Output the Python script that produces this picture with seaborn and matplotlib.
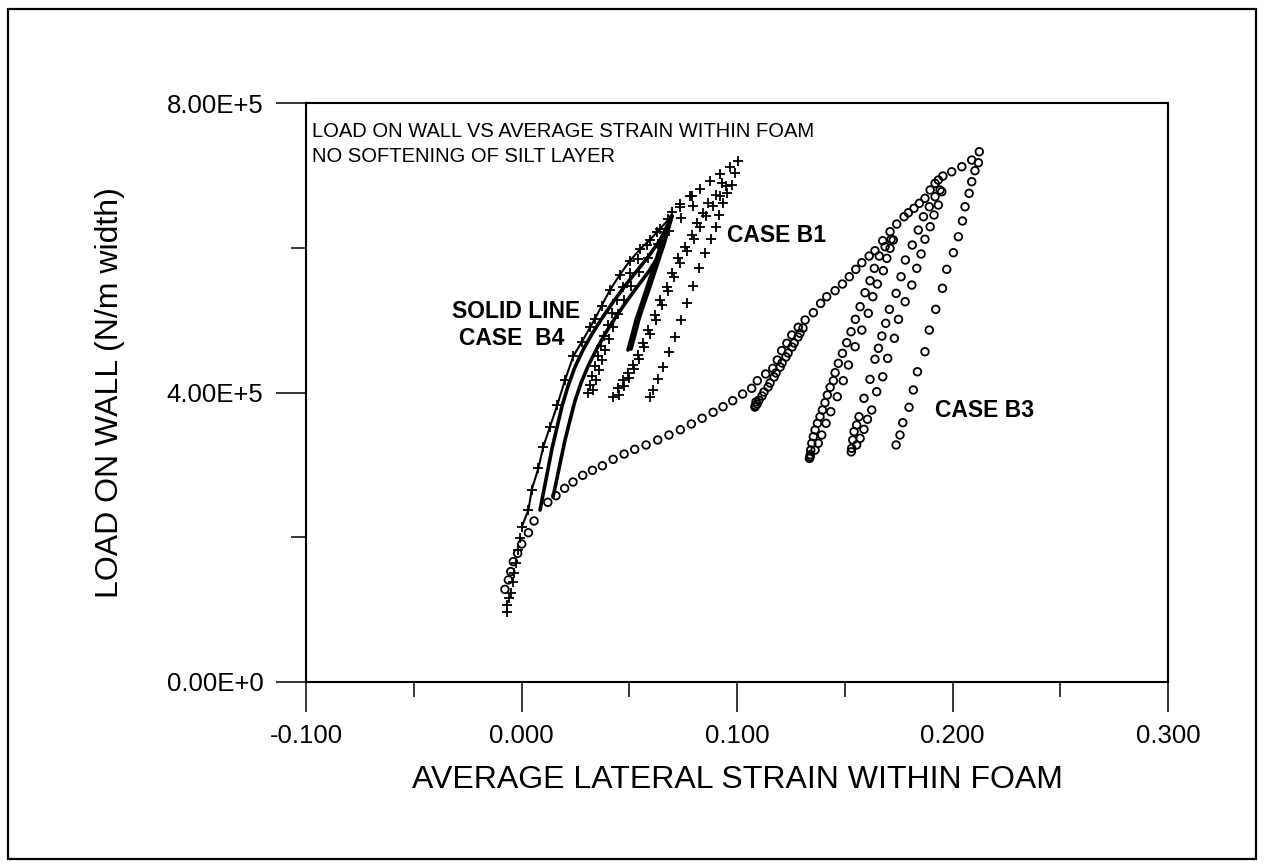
import numpy as np
import pandas as pd
import matplotlib
matplotlib.use("Agg")
import matplotlib.pyplot as plt
from matplotlib.patches import Rectangle
import seaborn as sns

# ---- data (strain, load in N/m width) ----

# CASE B3 (open circles): main loading curve up to the last peak
b3_main_x = [-0.0077, -0.0061, -0.0050, -0.0038, -0.0018, 0.0001, 0.0032, 0.0058, 0.0122, 0.0160,
             0.0200, 0.0239, 0.0284, 0.0329, 0.0375, 0.0425, 0.0476, 0.0525, 0.0578, 0.0632,
             0.0684, 0.0737, 0.0788, 0.0838, 0.0889, 0.0935, 0.0980, 0.1026, 0.1068, 0.1094,
             0.1133, 0.1166, 0.1187, 0.1207, 0.1231, 0.1254, 0.1284, 0.1316, 0.1354, 0.1388,
             0.1416, 0.1455, 0.1489, 0.1521, 0.1551, 0.1579, 0.1613, 0.1640, 0.1676, 0.1710,
             0.1741, 0.1775, 0.1795, 0.1821, 0.1846, 0.1872, 0.1896, 0.1919, 0.1934, 0.1955,
             0.1996, 0.2043, 0.2089, 0.2124]
b3_main_y = [128.0, 141.0, 152.5, 166.3, 177.8, 190.7, 206.3, 222.5, 248.3, 257.4,
             267.6, 276.3, 285.6, 292.5, 298.8, 307.7, 315.0, 321.5, 327.5, 334.4,
             341.3, 348.6, 356.5, 364.4, 372.7, 380.4, 388.7, 397.9, 405.8, 416.3,
             425.6, 433.4, 444.9, 457.8, 468.0, 479.4, 490.1, 500.2, 510.3, 523.2,
             532.4, 540.7, 549.9, 560.0, 570.2, 579.3, 588.6, 595.9, 609.7, 622.2,
             632.8, 642.9, 648.4, 654.5, 661.4, 668.3, 679.8, 689.0, 693.6, 699.1,
             705.0, 712.0, 721.2, 732.7]

# CASE B3 unload / reload loops
b3_loop1_x = [0.1292, 0.1265, 0.1237, 0.1209, 0.1181, 0.1153, 0.1125, 0.1102, 0.1083, 0.1085,
              0.1088, 0.1093, 0.1116, 0.1144, 0.1172, 0.1200, 0.1227, 0.1255, 0.1283, 0.1306]
b3_loop1_y = [481.9, 468.4, 454.6, 440.8, 427.0, 413.1, 400.7, 389.6, 379.9, 382.0,
              387.0, 384.1, 395.2, 407.6, 421.4, 435.2, 449.1, 462.9, 476.7, 489.1]

b3_loop2_x = [0.1336, 0.1340, 0.1339, 0.1342, 0.1347, 0.1354, 0.1362, 0.1373, 0.1385, 0.1396,
              0.1408, 0.1419, 0.1432, 0.1447, 0.1455, 0.1470, 0.1489, 0.1509, 0.1529, 0.1549,
              0.1571, 0.1594, 0.1617, 0.1637, 0.1660, 0.1687, 0.1715,
              0.1362, 0.1377, 0.1393, 0.1413, 0.1435, 0.1465, 0.1493, 0.1517, 0.1548, 0.1579,
              0.1609, 0.1630, 0.1651, 0.1679, 0.1695, 0.1710, 0.1725]
b3_loop2_y = [309.0, 314.0, 311.3, 320.5, 329.8, 339.0, 348.2, 357.4, 366.6, 375.8,
              385.9, 396.5, 407.2, 416.3, 427.4, 440.3, 454.1, 468.8, 484.0, 501.1,
              518.6, 537.9, 554.5, 571.6, 588.6, 601.5, 611.7,
              320.5, 329.8, 341.3, 357.4, 373.5, 394.2, 416.3, 438.0, 463.3, 486.3,
              509.4, 532.4, 549.9, 568.3, 585.4, 599.2, 610.7]

b3_loop3_x = [0.1530, 0.1532, 0.1537, 0.1543, 0.1555, 0.1566, 0.1589, 0.1617, 0.1640, 0.1656,
              0.1672, 0.1690, 0.1707, 0.1738, 0.1761, 0.1781, 0.1813, 0.1841, 0.1865, 0.1892,
              0.1919, 0.1942,
              0.1555, 0.1571, 0.1589, 0.1605, 0.1625, 0.1648, 0.1676, 0.1699, 0.1730, 0.1749,
              0.1780, 0.1811, 0.1834, 0.1854, 0.1872, 0.1896, 0.1914, 0.1934, 0.1950]
b3_loop3_y = [318.0, 322.9, 334.4, 345.9, 355.1, 366.6, 392.0, 418.2, 445.9, 461.1,
              478.0, 495.6, 514.9, 537.0, 560.0, 583.1, 603.8, 624.5, 642.9, 656.7,
              670.6, 679.8,
              327.5, 336.7, 349.1, 363.0, 375.8, 401.1, 421.8, 447.2, 474.9, 501.1,
              525.5, 548.5, 571.6, 591.4, 611.7, 629.1, 645.3, 659.1, 677.5]

b3_unload4_x = [0.2120, 0.2104, 0.2089, 0.2077, 0.2058, 0.2046, 0.2027, 0.2004, 0.1973, 0.1953,
                0.1922, 0.1892, 0.1872, 0.1837, 0.1818, 0.1798, 0.1769, 0.1756, 0.1738]
b3_unload4_y = [717.5, 706.5, 691.3, 675.2, 656.7, 637.0, 615.3, 593.2, 570.2, 544.0,
                514.9, 486.3, 456.4, 428.7, 403.5, 379.5, 358.3, 341.3, 327.5]

# CASE B1 (crosses): loading envelope up to the peak
b1_load_x = [-0.0069, -0.0069, -0.0057, -0.0050, -0.0041, -0.0035, -0.0027, -0.0015, -0.0007, 0.0001,
             0.0032, 0.0047, 0.0078, 0.0101, 0.0132, 0.0166, 0.0202, 0.0240, 0.0280, 0.0318,
             0.0341, 0.0372, 0.0411, 0.0457, 0.0503, 0.0550, 0.0596, 0.0642, 0.0698, 0.0735,
             0.0782, 0.0828, 0.0875, 0.0921, 0.0968, 0.1005]
b1_load_y = [97.1, 106.4, 115.6, 122.6, 138.6, 151.0, 164.8, 182.4, 198.5, 214.6,
             237.6, 265.3, 295.3, 325.1, 352.7, 382.7, 417.3, 450.0, 470.0, 490.0,
             502.0, 520.0, 542.0, 563.0, 582.0, 598.0, 611.0, 626.0, 649.4, 660.4,
             671.5, 681.2, 692.2, 701.9, 711.6, 719.9]

# CASE B1 unload / reload branches
b1_loop1_x = [0.0309, 0.0318, 0.0327, 0.0341, 0.0355, 0.0369, 0.0383, 0.0401, 0.0420, 0.0443,
              0.0471, 0.0503, 0.0541, 0.0582, 0.0629, 0.0680, 0.0735, 0.0791,
              0.0332, 0.0346, 0.0360, 0.0374, 0.0387, 0.0406, 0.0425, 0.0448, 0.0476, 0.0508,
              0.0545, 0.0587, 0.0633, 0.0684, 0.0740, 0.0796]
b1_loop1_y = [399.3, 410.4, 422.8, 436.7, 450.5, 464.3, 478.1, 493.3, 509.9, 527.8,
              545.8, 565.1, 584.4, 603.8, 621.8, 639.7, 656.3, 671.5,
              403.5, 417.3, 431.1, 444.9, 458.7, 473.9, 490.5, 508.5, 527.8, 547.1,
              566.5, 585.8, 605.2, 623.1, 641.1, 657.7]

b1_loop2_x = [0.0425, 0.0448, 0.0471, 0.0494, 0.0517, 0.0541, 0.0564, 0.0587, 0.0619, 0.0643,
              0.0675, 0.0698, 0.0726, 0.0759, 0.0791, 0.0815, 0.0842, 0.0865, 0.0903, 0.0930,
              0.0452, 0.0476, 0.0499, 0.0522, 0.0545, 0.0568, 0.0596, 0.0624, 0.0652, 0.0680,
              0.0708, 0.0735, 0.0768, 0.0800, 0.0828, 0.0856, 0.0889, 0.0921, 0.0949]
b1_loop2_y = [393.8, 406.2, 417.3, 426.9, 438.0, 451.8, 468.4, 486.3, 507.1, 527.8,
              545.8, 565.1, 585.8, 601.0, 617.6, 634.2, 648.0, 661.8, 672.9, 689.4,
              396.6, 409.0, 420.0, 432.5, 446.3, 462.9, 480.8, 500.2, 520.9, 540.2,
              559.6, 578.9, 595.5, 612.1, 628.7, 643.9, 657.7, 671.5, 685.3]

b1_unload3_x = [0.0991, 0.0975, 0.0952, 0.0936, 0.0918, 0.0903, 0.0878, 0.0852, 0.0825, 0.0797,
                0.0769, 0.0739, 0.0712, 0.0686, 0.0655, 0.0635, 0.0612, 0.0596]
b1_unload3_y = [702.9, 686.7, 675.2, 661.4, 645.2, 628.3, 611.7, 592.3, 571.6, 547.1,
                523.2, 500.2, 477.1, 456.4, 435.6, 418.2, 403.5, 393.4]

# CASE B4 (solid line): envelope and the thick unload / reload strokes
b4_env_x = [0.0001, 0.0032, 0.0047, 0.0078, 0.0101, 0.0132, 0.0166, 0.0202, 0.0240, 0.0280,
            0.0318, 0.0341, 0.0372, 0.0411, 0.0457, 0.0503, 0.0550, 0.0596, 0.0642, 0.0697]
b4_env_y = [214.6, 237.6, 265.3, 295.3, 325.1, 352.7, 382.7, 417.3, 450.0, 470.0,
            490.0, 502.0, 520.0, 542.0, 563.0, 582.0, 598.0, 611.0, 626.0, 643.9]

b4_m1_x = [0.0086, 0.0104, 0.0123, 0.0142, 0.0165, 0.0188, 0.0216, 0.0248, 0.0285, 0.0327,
           0.0374, 0.0425, 0.0476, 0.0531, 0.0587, 0.0643, 0.0698]
b4_m1_y = [237.6, 265.3, 294.3, 323.3, 352.3, 381.3, 409.0, 435.2, 458.7, 480.8,
           502.9, 525.0, 545.8, 566.5, 587.2, 610.7, 643.9]
b4_m2_x = [0.0146, 0.0165, 0.0183, 0.0202, 0.0225, 0.0248, 0.0276, 0.0309, 0.0346, 0.0387,
           0.0434, 0.0485, 0.0536, 0.0592, 0.0647, 0.0698]
b4_m2_y = [255.6, 281.9, 308.1, 334.4, 362.0, 388.3, 413.1, 436.6, 458.7, 480.8,
           502.9, 525.0, 545.8, 567.9, 594.1, 643.9]
b4_r1_x = [0.0494, 0.0513, 0.0531, 0.0555, 0.0578, 0.0601, 0.0624, 0.0647, 0.0671, 0.0694]
b4_r1_y = [458.7, 479.4, 500.2, 520.9, 541.6, 562.3, 583.1, 603.8, 624.5, 643.9]
b4_r2_x = [0.0508, 0.0527, 0.0545, 0.0568, 0.0592, 0.0615, 0.0638, 0.0661, 0.0680, 0.0698]
b4_r2_y = [460.1, 480.8, 501.6, 522.3, 543.0, 563.7, 584.4, 605.2, 624.5, 643.9]

x_ticks = [-0.1, 0.0, 0.1, 0.2, 0.3]
x_tick_labels = ["-0.100", "0.000", "0.100", "0.200", "0.300"]
x_minor = [-0.05, 0.05, 0.15, 0.25]
y_ticks = [0, 4e5, 8e5]
y_tick_labels = ["0.00E+0", "4.00E+5", "8.00E+5"]
y_minor = [2e5, 6e5]


def points(xs, ys):
    """x strain, y load given in kN/m -> N/m"""
    return pd.DataFrame({"strain": xs, "load": np.array(ys) * 1000.0})


b3 = pd.concat([points(b3_main_x, b3_main_y), points(b3_loop1_x, b3_loop1_y),
                points(b3_loop2_x, b3_loop2_y), points(b3_loop3_x, b3_loop3_y),
                points(b3_unload4_x, b3_unload4_y)], ignore_index=True)
b1 = pd.concat([points(b1_load_x, b1_load_y), points(b1_loop1_x, b1_loop1_y),
                points(b1_loop2_x, b1_loop2_y), points(b1_unload3_x, b1_unload3_y)],
               ignore_index=True)

sns.set_theme(style="white")
plt.rcParams["font.family"] = ["Liberation Sans", "DejaVu Sans"]
plt.rcParams["text.color"] = "black"
plt.rcParams["axes.labelcolor"] = "black"

fig = plt.figure(figsize=(12.64, 8.68), dpi=100)
ax = fig.add_axes([0.2421, 0.2143, 0.6820, 0.6670])

# solid line case B4
sns.lineplot(data=points(b4_env_x, b4_env_y), x="strain", y="load", sort=False,
             estimator=None, color="black", lw=1.5, ax=ax)
for bx, by in [(b4_m1_x, b4_m1_y), (b4_m2_x, b4_m2_y), (b4_r1_x, b4_r1_y), (b4_r2_x, b4_r2_y)]:
    sns.lineplot(data=points(bx, by), x="strain", y="load", sort=False,
                 estimator=None, color="black", lw=2.6, ax=ax)

sns.scatterplot(data=b1, x="strain", y="load", marker="+", s=50, color="black",
                linewidth=1.3, ax=ax)
sns.scatterplot(data=b3, x="strain", y="load", marker="o", s=30, color="none",
                edgecolor="black", linewidth=1.3, ax=ax)

ax.set_xlim(-0.1, 0.3)
ax.set_ylim(0, 8e5)
ax.set_xticks(x_ticks)
ax.set_xticklabels(x_tick_labels)
ax.set_xticks(x_minor, minor=True)
ax.set_yticks(y_ticks)
ax.set_yticklabels(y_tick_labels)
ax.set_yticks(y_minor, minor=True)

ax.tick_params(which="both", direction="out", bottom=True, left=True, top=False,
               right=False, color="black", width=1.1)
ax.tick_params(which="major", length=21.6, pad=9, labelsize=18.5, labelcolor="black")
ax.tick_params(which="minor", length=10.8)
for sp in ax.spines.values():
    sp.set_color("black")
    sp.set_linewidth(1.5)

ax.set_xlabel("AVERAGE LATERAL STRAIN WITHIN FOAM", fontsize=23, color="black", va="top")
ax.xaxis.set_label_coords(0.5, -0.143)
ax.set_ylabel("LOAD ON WALL (N/m width)", fontsize=23, color="black")
ax.yaxis.set_label_coords(-0.21, 0.5)

ax.text(0.007, 0.9418, "LOAD ON WALL VS AVERAGE STRAIN WITHIN FOAM", transform=ax.transAxes,
        fontsize=14.5, va="baseline", ha="left", color="black")
ax.text(0.007, 0.8986, "NO SOFTENING OF SILT LAYER", transform=ax.transAxes,
        fontsize=14.5, va="baseline", ha="left", color="black")

bold = dict(fontsize=16.5, fontweight="bold", va="baseline", ha="left", color="black")
ax.text(-0.0323, 502500, "SOLID LINE", **bold)
ax.text(-0.0290, 465600, "CASE  B4", **bold)
ax.text(0.0953, 608400, "CASE B1", **bold)
ax.text(0.1919, 366100, "CASE B3", **bold)

fig.add_artist(Rectangle((8 / 1264, 9 / 868), 1248 / 1264, 850 / 868,
                         transform=fig.transFigure, fill=False, edgecolor="black", lw=1.6))

fig.savefig("out.png", dpi=100)
